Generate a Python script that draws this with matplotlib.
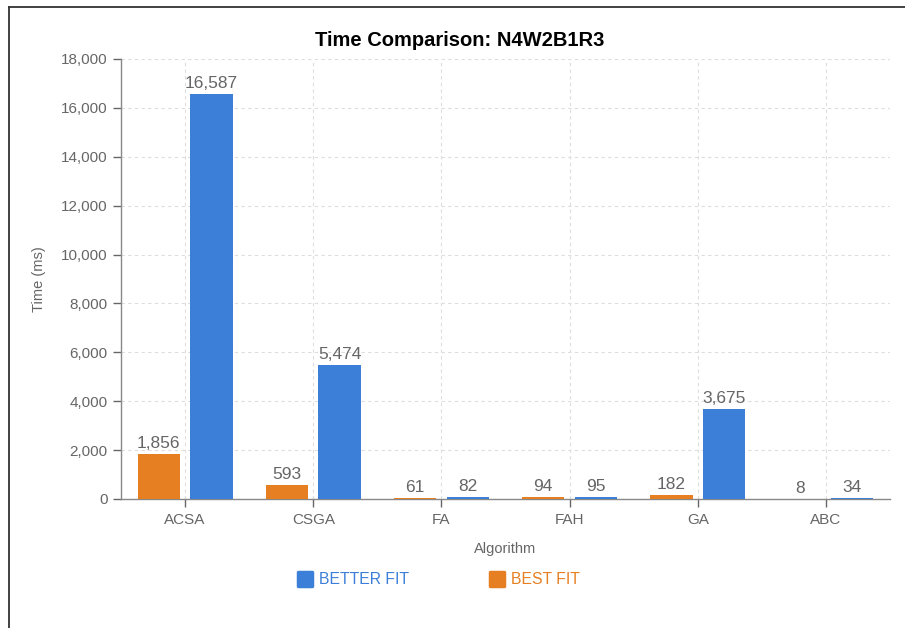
import numpy as np
import matplotlib
matplotlib.use("Agg")
import matplotlib.pyplot as plt
from matplotlib.lines import Line2D
from matplotlib.markers import MarkerStyle

# ── data ──────────────────────────────────────────────
ALGOS = ["ACSA", "CSGA", "FA", "FAH", "GA", "ABC"]
BEST_FIT = [1856, 593, 61, 94, 182, 8]
BETTER_FIT = [16587, 5474, 82, 95, 3675, 34]
Y_TICKS = list(range(0, 18001, 2000))

BLUE = "#3b7fd8"
ORANGE = "#e67e22"
GRAY = "#666666"
GRID = "#dddddd"

plt.rcParams["font.family"] = ["Liberation Sans", "DejaVu Sans"]

fig = plt.figure(figsize=(9.05, 6.28), dpi=100)
ax = fig.add_axes([121 / 905, 1 - 499 / 628, (890 - 121) / 905, (499 - 59) / 628])

x = np.arange(len(ALGOS))
w, off = 0.33, 0.205
b1 = ax.bar(x - off, BEST_FIT, w, color=ORANGE, zorder=3)
b2 = ax.bar(x + off, BETTER_FIT, w, color=BLUE, zorder=3)
for bars, vals in ((b1, BEST_FIT), (b2, BETTER_FIT)):
    for rect, v in zip(bars, vals):
        ax.annotate(f"{v:,}", (rect.get_x() + rect.get_width() / 2, v),
                    xytext=(0, 2), textcoords="offset points",
                    ha="center", va="bottom", fontsize=12.5, color=GRAY)

ax.set_xlim(-0.5, len(ALGOS) - 0.5)
ax.set_ylim(0, 18000)
ax.set_xticks(x)
ax.set_xticklabels(ALGOS)
ax.set_yticks(Y_TICKS)
ax.set_yticklabels([f"{t:,}" for t in Y_TICKS])
ax.tick_params(colors=GRAY, labelsize=11, length=6, width=1, color=GRAY)
ax.tick_params(axis="x", pad=4)

ax.grid(True, color=GRID, ls=(0, (3, 3)), lw=0.8, zorder=0)
ax.set_axisbelow(True)
for s in ("top", "right"):
    ax.spines[s].set_visible(False)
for s in ("left", "bottom"):
    ax.spines[s].set_color("#888888")
    ax.spines[s].set_linewidth(1)

ax.set_xlabel("Algorithm", color=GRAY, fontsize=10.5, labelpad=11)
ax.set_ylabel("Time (ms)", color=GRAY, fontsize=10.5, labelpad=11)
fig.suptitle("Time Comparison: N4W2B1R3", x=460 / 905, y=1 - 40 / 628, va="center",
             fontsize=14.5, fontweight="bold")

# legend: rounded squares, coloured text
def sq(color):
    return Line2D([], [], ls="", marker=MarkerStyle("s", joinstyle="round"),
                  markersize=10, markeredgewidth=2.5,
                  markerfacecolor=color, markeredgecolor=color)

fig.legend([sq(BLUE), sq(ORANGE)], ["BETTER FIT", "BEST FIT"],
           loc="center", bbox_to_anchor=(438 / 905, 1 - 580 / 628), ncol=2,
           frameon=False, fontsize=11.3, labelcolor=[BLUE, ORANGE],
           handletextpad=0.3, columnspacing=5.0, handlelength=1.2)

# frame around the card
fig.add_artist(Line2D([9 / 905, 9 / 905], [0, 1 - 7 / 628], color="#333333", lw=1.3))
fig.add_artist(Line2D([9 / 905, 1], [1 - 7 / 628, 1 - 7 / 628], color="#333333", lw=1.3))

fig.savefig("out.png", dpi=100)
